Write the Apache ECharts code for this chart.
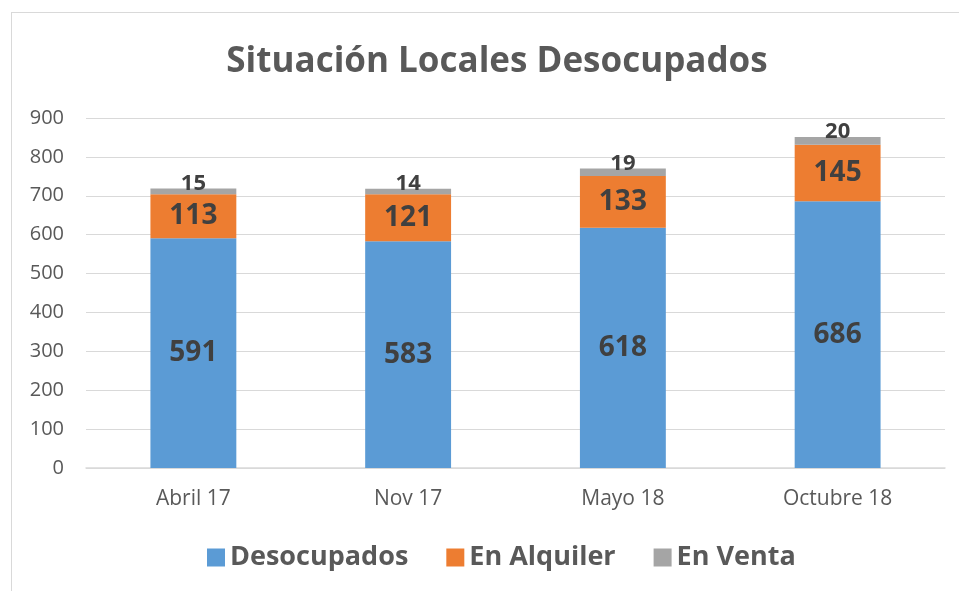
<!DOCTYPE html>
<html><head><meta charset="utf-8">
<script src="https://cdn.jsdelivr.net/npm/echarts@6/dist/echarts.min.js"></script>
<style>
html,body{margin:0;padding:0;background:#fff;}
#frame{position:absolute;left:11px;top:12px;width:960px;height:600px;border:1.5px solid #d9d9d9;box-sizing:border-box;}
#chart{position:absolute;left:0;top:0;width:959px;height:591px;}
</style></head>
<body>
<div id="frame"></div>
<div id="chart"></div>
<script>
const categories = ['Abril 17', 'Nov 17', 'Mayo 18', 'Octubre 18'];
const desocupados = [591, 583, 618, 686];
const enAlquiler = [113, 121, 133, 145];
const enVenta = [15, 14, 19, 20];
const yTicks = [0, 100, 200, 300, 400, 500, 600, 700, 800, 900];

const FONT = 'Open Sans';
const chart = echarts.init(document.getElementById('chart'), null, {renderer: 'canvas'});
const bigLabel = {show: true, position: 'inside', color: '#404040', fontSize: 28, fontWeight: 'bold', fontFamily: FONT};
chart.setOption({
  backgroundColor: 'transparent',
  animation: false,
  title: {
    text: 'Situación Locales Desocupados',
    left: 492, top: 40, textAlign: 'center',
    textStyle: {fontSize: 35, fontWeight: 'bold', color: '#595959', fontFamily: FONT}
  },
  legend: {
    bottom: 15, left: 202,
    itemWidth: 18, itemHeight: 18, itemGap: 38,
    icon: 'rect',
    textStyle: {fontSize: 27, fontWeight: 'bold', color: '#595959', fontFamily: FONT},
    data: ['Desocupados', 'En Alquiler', 'En Venta']
  },
  grid: {left: 86, right: 14, top: 118, bottom: 123},
  xAxis: {
    type: 'category', data: categories,
    axisLine: {lineStyle: {color: '#d9d9d9', width: 1.5}},
    axisTick: {show: false},
    axisLabel: {color: '#595959', fontSize: 21, fontFamily: FONT, margin: 21}
  },
  yAxis: {
    type: 'value', min: yTicks[0], max: yTicks[yTicks.length - 1], interval: 100,
    axisLine: {show: false}, axisTick: {show: false},
    splitLine: {lineStyle: {color: '#d9d9d9', width: 1.2}},
    axisLabel: {color: '#595959', fontSize: 20, fontFamily: FONT, margin: 22}
  },
  series: [
    {name: 'Desocupados', type: 'bar', stack: 's', data: desocupados, barWidth: '40%',
     itemStyle: {color: '#5B9BD5'}, label: bigLabel},
    {name: 'En Alquiler', type: 'bar', stack: 's', data: enAlquiler,
     itemStyle: {color: '#ED7D31'}, label: bigLabel},
    {name: 'En Venta', type: 'bar', stack: 's', data: enVenta,
     itemStyle: {color: '#A5A5A5'},
     label: {show: true, position: 'top', distance: -6, color: '#404040', fontSize: 22, fontWeight: 'bold', fontFamily: FONT}}
  ]
});
</script>
</body></html>
